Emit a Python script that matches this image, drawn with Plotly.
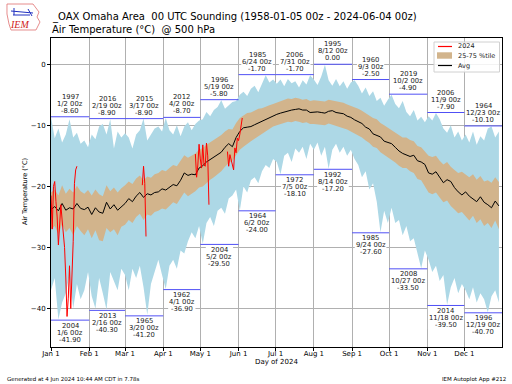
import plotly.graph_objects as go

# ---------------- data ----------------
days = list(range(0, 366, 3))  # sample day-of-year positions (0 = Jan 1)

tmax = [-8.6, -12.1, -10.5, -12.8, -11.5, -9.0, -12.0, -11.2, -13.0, -12.5, -13.6,
        -11.5, -12.3, -10.2, -9.8, -11.5, -9.0, -13.8, -11.0, -12.0,
        -11.3, -12.0, -13.8, -11.5, -10.8, -8.9, -12.5, -11.5, -10.5, -10.2, -11.0,
        -8.8, -10.8, -11.5, -10.0, -11.8, -10.2, -9.5, -10.8, -9.8, -9.2,
        -9.0, -7.8, -8.5, -7.5, -7.0, -5.9, -7.3, -6.8, -6.2, -6.0,
        -5.0, -4.5, -5.2, -4.0, -3.5, -4.6, -3.2, -1.8, -3.0, -2.5,
        -3.2, -2.5, -3.6, -2.4, -3.1, -2.8, -3.8, -2.6, -3.3, -1.8,
        -2.5, -3.4, -2.0, -0.1, -2.6, -3.5, -2.4, -3.6, -2.8, -4.0, -3.0,
        -2.6, -3.5, -4.8, -3.8, -5.2, -4.4, -6.0, -5.5, -6.8, -5.8,
        -5.0, -6.5, -7.2, -6.0, -7.8, -8.5, -7.5, -9.2, -8.6, -9.5,
        -8.5, -9.2, -8.0, -9.0, -10.5, -11.2, -10.0, -12.0, -11.0, -12.5,
        -11.5, -12.8, -11.0, -13.2, -11.8, -12.5, -10.5, -10.2, -12.0, -11.0]

tmin = [-37.0, -35.0, -41.8, -39.0, -37.5, -34.5, -40.0, -36.0, -38.5, -37.0, -34.0,
        -38.0, -40.0, -35.0, -37.5, -40.2, -34.0, -35.5, -37.0, -33.5,
        -34.5, -37.0, -33.5, -35.0, -33.0, -36.5, -41.0, -36.0, -34.0, -32.0, -34.5,
        -36.8, -33.0, -32.0, -33.5, -30.5, -31.0, -29.0, -27.5, -28.5, -26.5,
        -29.4, -26.0, -25.0, -26.5, -24.0, -23.5, -24.5, -22.0, -21.5, -20.5,
        -24.0, -20.0, -21.0, -19.0, -18.5, -19.5, -17.5, -16.5, -17.0, -15.5,
        -16.0, -18.0, -15.0, -14.5, -16.0, -13.8, -14.5, -13.5, -15.5, -13.0,
        -14.0, -12.8, -15.0, -13.5, -17.1, -14.0, -13.0, -14.5, -13.5, -15.0, -14.0,
        -15.5, -16.5, -18.5, -17.5, -20.5, -19.5, -22.5, -27.5, -24.0, -26.0,
        -23.5, -26.0, -25.5, -28.0, -26.5, -29.0, -28.5, -31.0, -33.4, -30.5,
        -32.0, -34.0, -33.0, -35.5, -34.5, -39.4, -36.5, -35.0, -37.5, -36.0,
        -37.0, -38.5, -36.5, -39.0, -37.5, -38.5, -40.6, -38.0, -37.0, -39.0]

p75 = [-21.0, -20.5, -21.5, -19.8, -21.2, -20.4, -21.0, -19.9, -20.8, -21.2, -20.6,
       -21.5, -20.5, -21.3, -21.6, -19.8, -20.8, -20.2, -21.0, -20.3,
       -19.8, -19.2, -19.6, -18.7, -18.2, -19.0, -18.4, -18.6, -18.0, -17.8, -17.3,
       -17.5, -17.0, -16.5, -16.7, -15.8, -14.9, -15.3, -15.0, -14.6, -14.0,
       -13.7, -13.2, -12.8, -12.3, -12.0, -11.6, -11.0, -10.6, -10.7, -9.6,
       -8.8, -8.4, -8.0, -7.9, -7.6, -7.3, -7.2, -6.9, -6.7, -6.5,
       -6.3, -6.0, -5.8, -5.6, -5.7, -5.5, -5.6, -5.8, -5.7, -6.0,
       -5.9, -6.0, -6.0, -6.1, -5.8, -5.9, -6.1, -6.2, -6.3, -6.6, -6.8,
       -7.0, -7.3, -7.6, -8.0, -8.3, -8.8, -9.0, -9.6, -10.0, -10.4,
       -10.8, -11.2, -11.6, -12.0, -12.0, -12.4, -12.6, -13.4, -13.6, -14.4,
       -15.0, -15.2, -15.0, -15.8, -16.4, -16.0, -16.8, -17.3, -17.8, -17.6,
       -18.0, -18.5, -18.0, -18.9, -18.3, -19.2, -19.0, -19.4, -18.5, -19.3]

p25 = [-27.0, -26.5, -27.8, -26.2, -27.5, -26.8, -28.0, -26.5, -27.3, -28.0, -27.0,
       -28.5, -27.2, -28.8, -29.0, -26.8, -27.5, -27.0, -28.0, -26.6,
       -26.3, -25.5, -26.0, -25.0, -24.5, -25.5, -24.6, -24.8, -24.2, -24.0, -23.6,
       -23.8, -23.2, -22.6, -22.9, -22.0, -21.0, -21.6, -21.2, -20.8, -20.2,
       -20.0, -19.5, -18.9, -18.5, -18.0, -17.5, -16.8, -16.2, -15.8, -15.0,
       -14.0, -13.5, -13.0, -12.6, -12.2, -11.8, -11.5, -11.0, -10.6, -10.2,
       -10.0, -9.8, -9.6, -9.4, -9.5, -9.3, -9.4, -9.6, -9.5, -9.8,
       -9.8, -9.9, -9.9, -10.0, -9.7, -9.9, -10.1, -10.2, -10.4, -10.7, -11.0,
       -11.3, -11.7, -12.0, -12.5, -12.9, -13.5, -13.7, -14.4, -14.8, -15.2,
       -15.6, -16.1, -16.6, -17.0, -17.0, -17.5, -17.8, -18.8, -19.0, -20.0,
       -21.0, -21.3, -21.0, -21.8, -22.6, -22.3, -23.2, -23.8, -24.4, -24.2,
       -25.0, -25.6, -24.8, -26.0, -25.4, -26.5, -26.0, -26.8, -25.6, -27.0]

avg = [-23.8, -23.3, -24.0, -22.8, -23.9, -23.5, -23.7, -22.8, -23.6, -23.8, -23.4,
       -24.6, -23.5, -24.2, -24.4, -22.6, -23.7, -23.0, -23.9, -23.3, -22.8, -22.0,
       -22.5, -21.6, -21.0, -21.8, -21.2, -21.4, -21.0, -20.9, -20.4,
       -20.6, -20.2, -19.7, -19.9, -19.0, -17.8, -18.2, -18.0, -18.1, -17.0,
       -16.6, -16.0, -15.6, -15.2, -14.9, -14.4, -13.6, -13.0, -13.5, -12.0,
       -11.0, -10.4, -10.3, -10.2, -9.9, -9.6, -9.4, -9.0, -8.8, -8.5,
       -8.2, -8.0, -7.8, -7.6, -7.5, -7.4, -7.3, -7.5, -7.5, -7.9,
       -7.8, -7.8, -7.9, -8.0, -7.7, -7.6, -7.9, -8.0, -8.1, -8.5,
       -8.7, -9.1, -9.4, -9.7, -10.3, -10.6, -11.4, -11.6, -11.9, -12.6, -12.8, -13.0,
       -13.6, -14.2, -14.6, -14.9, -15.1, -14.9, -15.8, -16.0, -16.4, -17.8,
       -18.0, -17.6, -18.6, -19.4, -18.9, -19.2, -20.2, -20.9, -21.4, -20.9,
       -21.6, -22.0, -22.5, -21.7, -22.6, -23.0, -23.5, -22.4, -23.2]

# 2024 observations (None = missing)
red_days = list(range(0, 22)) + [None] + [74, 75, 76, 77] + [None] + list(range(117, 129)) + [None] + list(range(143, 156))
red_vals = [-21.5, -27.0, -20.0, -19.2, -22.5, -25.0, -29.6, -26.0, -23.0, -25.5, -27.7,
            -30.0, -35.0, -41.3, -38.3, -33.0, -40.0, -35.5, -29.0, -19.5, -17.3, -16.7,
            None,
            -19.8, -16.7, -19.5, -28.2,
            None,
            -14.7, -18.5, -16.5, -13.1, -15.5, -17.0, -13.2, -16.5, -16.7, -12.9, -15.0, -23.0,
            None,
            -14.3, -16.7, -14.8, -15.5, -16.5, -17.3, -13.7, -14.5, -12.1, -12.5, -11.5, -10.0, -8.8]

month_starts = [0, 31, 60, 91, 121, 152, 182, 213, 244, 274, 305, 335, 366]
month_labels = ["Jan 1", "Feb 1", "Mar 1", "Apr 1", "May 1", "Jun 1",
                "Jul 1", "Aug 1", "Sep 1", "Oct 1", "Nov 1", "Dec 1"]

max_years = ["1997", "2016", "2015", "2012", "1996", "1985", "2006", "1995", "1960", "2019", "2006", "1964"]
max_dates = ["1/2", "2/19", "3/17", "4/2", "5/19", "6/24", "7/31", "8/12", "9/3", "10/2", "11/9", "12/23"]
max_vals = [-8.6, -8.9, -8.9, -8.7, -5.8, -1.7, -1.7, 0.0, -2.5, -4.9, -7.9, -10.1]
min_years = ["2004", "2013", "1965", "1962", "2004", "1964", "1972", "1992", "1985", "2008", "2014", "1996"]
min_dates = ["1/6", "2/16", "3/20", "4/1", "5/2", "6/2", "7/5", "8/14", "9/24", "10/27", "11/18", "12/19"]
min_vals = [-41.9, -40.3, -41.2, -36.9, -29.5, -24.0, -18.1, -17.2, -27.6, -33.5, -39.5, -40.7]

legend_labels = ["2024", "25-75 %tile", "Avg"]
legend_colors = ["red", "#D2B48C", "black"]

# ---------------- figure ----------------
W, H = 512, 384
L, R, T, B = 51, 10, 38, 37
FONT = "DejaVu Sans"
LBL = 6.8  # record label font size
CHW = {"/": .337, " ": .318, "z": .521, "-": .361, ".": .318}


def px(x, y):
    return (x - L) / (W - L - R), (H - B - y) / (H - T - B)


def text_w(s, size):
    return sum(CHW.get(c, .636) for c in s) * size


fig = go.Figure()
fig.add_trace(go.Scatter(x=days, y=tmin, mode="lines", line=dict(width=0),
                         showlegend=False, hoverinfo="skip"))
fig.add_trace(go.Scatter(x=days, y=tmax, mode="lines", line=dict(width=0),
                         fill="tonexty", fillcolor="#ADD8E6", showlegend=False, hoverinfo="skip"))
fig.add_trace(go.Scatter(x=days, y=p25, mode="lines", line=dict(width=0),
                         showlegend=False, hoverinfo="skip"))
fig.add_trace(go.Scatter(x=days, y=p75, mode="lines", line=dict(width=0, color="#D2B48C"),
                         fill="tonexty", fillcolor="#D2B48C", name="25-75 %tile", showlegend=False))
fig.add_trace(go.Scatter(x=days[:len(avg)], y=avg, mode="lines", line=dict(width=1, color="black"),
                         name="Avg", showlegend=False))
fig.add_trace(go.Scatter(x=red_days, y=red_vals, mode="lines", line=dict(width=1, color="red"),
                         name="2024", showlegend=False, connectgaps=False))

# record lines per month
rx, ry = [], []
for i in range(12):
    rx += [month_starts[i], month_starts[i + 1], None]
    ry += [max_vals[i], max_vals[i], None]
    rx += [month_starts[i], month_starts[i + 1], None]
    ry += [min_vals[i], min_vals[i], None]
fig.add_trace(go.Scatter(x=rx, y=ry, mode="lines", line=dict(width=1, color="#5050f5"),
                         showlegend=False, hoverinfo="skip"))

ann = []
shapes = []
for i in range(12):
    mid = (month_starts[i] + month_starts[i + 1]) / 2
    for (yr, dt, v, offs, box) in [(max_years[i], max_dates[i], max_vals[i], (20, 13, 6), (1.5, 24.5)),
                                   (min_years[i], min_dates[i], min_vals[i], (-5.5, -12.5, -19.5), (-1.5, -24))]:
        lines = [yr, f"{dt} 00z", f"{v:.2f}"]
        wmax = max(text_w(s, LBL) for s in lines) + 2
        shapes.append(dict(type="rect", xref="x", yref="y", xsizemode="pixel", ysizemode="pixel",
                           xanchor=mid, yanchor=v, x0=-wmax / 2, x1=wmax / 2, y0=box[0], y1=box[1],
                           fillcolor="white", line=dict(width=0), layer="above"))
        for s, o in zip(lines, offs):
            ann.append(dict(x=mid, y=v, xref="x", yref="y", text=s, showarrow=False,
                            xanchor="center", yanchor="middle", yshift=o,
                            font=dict(family=FONT, size=LBL, color="#222")))

# titles
x1, y1 = px(50, 17)
ann.append(dict(x=x1, y=y1, xref="paper", yref="paper", xanchor="left", yanchor="middle",
                text="_OAX Omaha Area \u00a000 UTC Sounding (1958-01-05 00z - 2024-06-04 00z)",
                showarrow=False, font=dict(family=FONT, size=10, color="black")))
x2, y2 = px(50, 29)
ann.append(dict(x=x2, y=y2, xref="paper", yref="paper", xanchor="left", yanchor="middle",
                text="Air Temperature (°C) \u00a0@ 500 hPa",
                showarrow=False, font=dict(family=FONT, size=10, color="black")))
# axis titles
xa, ya = px(276, 362)
ann.append(dict(x=xa, y=ya, xref="paper", yref="paper", text="Day of 2024", showarrow=False,
                xanchor="center", yanchor="middle", font=dict(family=FONT, size=7, color="black")))
xa, ya = px(25, 192)
ann.append(dict(x=xa, y=ya, xref="paper", yref="paper", text="Air Temperature (°C)", showarrow=False,
                xanchor="center", yanchor="middle", textangle=-90,
                font=dict(family=FONT, size=6.5, color="black")))
# footer
xa, ya = px(5, 379)
ann.append(dict(x=xa, y=ya, xref="paper", yref="paper", xanchor="left", yanchor="middle",
                text="Generated at 4 Jun 2024 10:44 AM CDT in 7.78s",
                showarrow=False, font=dict(family=FONT, size=5.5, color="black")))
xa, ya = px(508, 379)
ann.append(dict(x=xa, y=ya, xref="paper", yref="paper", xanchor="right", yanchor="middle",
                text="IEM Autoplot App #212",
                showarrow=False, font=dict(family=FONT, size=5.5, color="black")))
# logo text
xa, ya = px(20, 24)
ann.append(dict(x=xa, y=ya, xref="paper", yref="paper", text="<i>IEM</i>", showarrow=False,
                xanchor="center", yanchor="middle",
                font=dict(family="Liberation Serif", size=10, color="#d02020")))

# logo outline shapes
outline = [(7, 4), (33, 4), (36, 8), (39, 12), (37, 17), (40, 22), (36, 30), (11, 30), (9, 24), (7, 14)]
path = "M " + " L ".join(f"{px(a, b)[0]:.4f},{px(a, b)[1]:.4f}" for a, b in outline) + " Z"
shapes.append(dict(type="path", xref="paper", yref="paper", path=path, line=dict(color="#e07070", width=0.8)))
for (a, b, c, d) in [(11, 11, 33, 13), (14, 8, 14, 15), (28, 9, 32, 16), (13, 15, 30, 15)]:
    xa0, ya0 = px(a, b)
    xa1, ya1 = px(c, d)
    shapes.append(dict(type="line", xref="paper", yref="paper", x0=xa0, y0=ya0, x1=xa1, y1=ya1,
                       line=dict(color="#2030c0", width=1)))

# legend box (drawn compactly, matplotlib-style)
bx0, by0 = px(434, 42)
bx1, by1 = px(499.5, 72)
shapes.append(dict(type="rect", xref="paper", yref="paper", x0=bx0, y0=by0, x1=bx1, y1=by1,
                   line=dict(color="#d0d0d0", width=1), fillcolor="rgba(255,255,255,0.85)", layer="above"))
leg_y = [46.5, 55.5, 65.5]
for lab, col, yy in zip(legend_labels, legend_colors, leg_y):
    if lab == "25-75 %tile":
        ax0, ay0 = px(437, yy - 3.2)
        ax1, ay1 = px(452, yy + 3.2)
        shapes.append(dict(type="rect", xref="paper", yref="paper", x0=ax0, y0=ay0, x1=ax1, y1=ay1,
                           line=dict(width=0), fillcolor=col, layer="above"))
    else:
        ax0, ay0 = px(438, yy)
        ax1, ay1 = px(452, yy)
        shapes.append(dict(type="line", xref="paper", yref="paper", x0=ax0, y0=ay0, x1=ax1, y1=ay1,
                           line=dict(color=col, width=1.2), layer="above"))
    tx, ty = px(455.5, yy)
    ann.append(dict(x=tx, y=ty, xref="paper", yref="paper", xanchor="left", yanchor="middle",
                    text=lab, showarrow=False, font=dict(family=FONT, size=6.5, color="#222")))

fig.update_layout(
    width=W, height=H,
    margin=dict(l=L, r=R, t=T, b=B),
    paper_bgcolor="white", plot_bgcolor="white",
    font=dict(family=FONT, size=7, color="black"),
    annotations=ann, shapes=shapes, showlegend=False,
    xaxis=dict(range=[0, 365.5], tickvals=month_starts[:12], ticktext=month_labels,
               showgrid=True, gridcolor="#b0b0b0", gridwidth=1, layer="above traces",
               showline=True, linecolor="black", linewidth=1, mirror=True,
               ticks="outside", ticklen=3, tickcolor="black", zeroline=False,
               ticklabelstandoff=-3,
               tickfont=dict(family=FONT, size=7)),
    yaxis=dict(range=[-46.3, 4.3], tickvals=[0, -10, -20, -30, -40],
               showgrid=True, gridcolor="#b0b0b0", gridwidth=1, layer="above traces",
               showline=True, linecolor="black", linewidth=1, mirror=True,
               ticks="outside", ticklen=3, tickcolor="black", zeroline=False,
               tickfont=dict(family=FONT, size=7)),
)

fig.write_html("out.html", config={"displayModeBar": False},
               post_script="document.body.style.margin='0px';document.body.style.overflow='hidden';")
